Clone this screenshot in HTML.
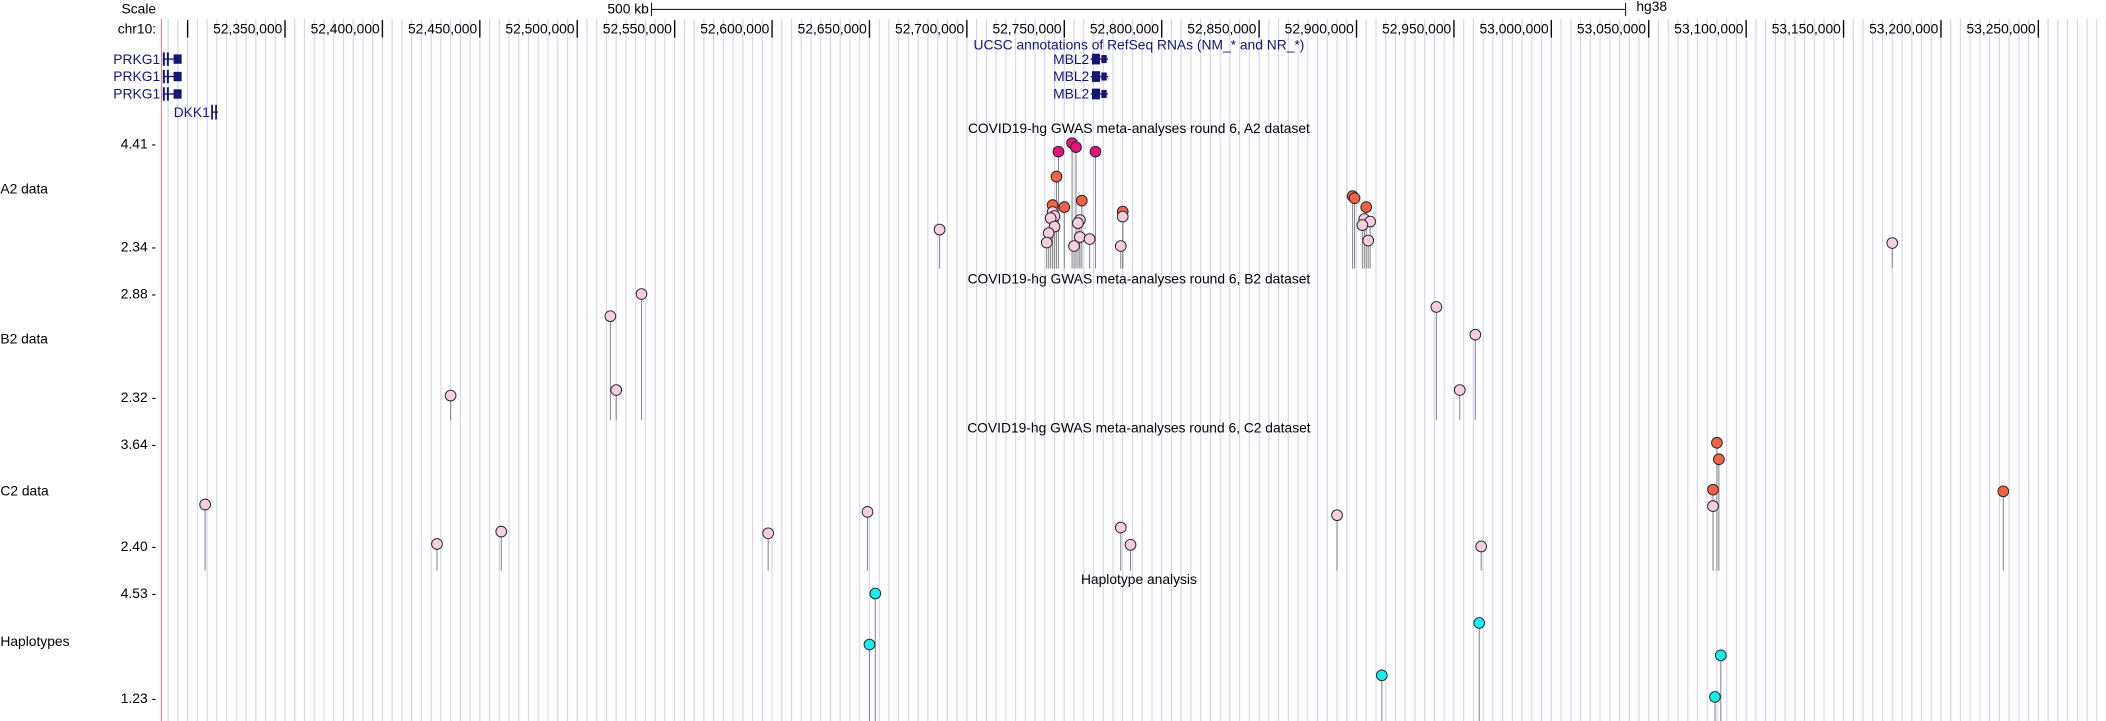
<!DOCTYPE html>
<html><head><meta charset="utf-8"><style>
html,body{margin:0;padding:0;background:#fff;width:2106px;height:721px;overflow:hidden}
svg text{font-family:"Liberation Sans",Arial,sans-serif;font-size:10.3px;fill:#000}
</style></head><body>
<svg id="chart" width="2106" height="721" viewBox="0 0 1568 537" xmlns="http://www.w3.org/2000/svg">
<g id="grid"></g>
<g id="axis"></g>
<g id="genes"></g>
<g id="tracks"></g>
</svg>
<script>
const tickMb=[52300,52350,52400,52450,52500,52550,52600,52650,52700,52750,52800,52850,52900,52950,53000,53050,53100,53150,53200,53250];
const tickLabels=["","52,350,000","52,400,000","52,450,000","52,500,000","52,550,000","52,600,000","52,650,000","52,700,000","52,750,000","52,800,000","52,850,000","52,900,000","52,950,000","53,000,000","53,050,000","53,100,000","53,150,000","53,200,000","53,250,000"];
// A2
const a2Pos=[52686,52747,52754,52756,52766,52746,52744,52750,52759,52780,52780,52779,52744,52745,52743,52745,52742,52741,52758,52757,52758,52755,52763,52898,52899,52905,52904,52907,52903,52906,53175];
const a2Val=[2.69,4.25,4.42,4.34,4.25,3.75,3.18,3.14,3.27,3.05,2.95,2.36,3.04,2.96,2.92,2.75,2.62,2.43,2.88,2.82,2.54,2.36,2.50,3.36,3.32,3.14,2.90,2.85,2.78,2.47,2.42];
const a2Cat=[0,2,2,2,2,1,1,1,1,1,0,0,0,0,0,0,0,0,0,0,0,0,0,1,1,1,0,0,0,0,0];
// B2
const b2Pos=[52517,52520,52533,52435,52941,52961,52953];
const b2Val=[2.76,2.36,2.88,2.33,2.81,2.66,2.36];
const b2Cat=[0,0,0,0,0,0,0];
// C2
const c2Pos=[52309,52428,52461,52598,52649,52779,52784,52890,52964,53085,53086,53083,53083,53232];
const c2Val=[2.91,2.43,2.58,2.56,2.82,2.63,2.42,2.78,2.40,3.66,3.46,3.09,2.89,3.07];
const c2Cat=[0,0,0,0,0,0,0,0,0,1,1,1,0,1];
// Haplotypes
const hapPos=[52653,52650,52963,52913,53087,53084];
const hapVal=[4.53,2.92,3.60,1.95,2.58,1.27];
const hapCat=[3,3,3,3,3,3];

const NS="http://www.w3.org/2000/svg";
const X0=120,X1=1568;
function x(kb){return 212+(kb-52350)*1.451;}
function mk(tag,attrs,parent){const e=document.createElementNS(NS,tag);for(const k in attrs)e.setAttribute(k,attrs[k]);parent.appendChild(e);return e;}
function txt(s,attrs,parent){const e=mk('text',attrs,parent);e.textContent=s;return e;}
const grid=document.getElementById('grid'),axis=document.getElementById('axis'),genes=document.getElementById('genes'),tracks=document.getElementById('tracks');

for(let kb=52290;kb<=53285;kb+=5){const gx=x(kb);if(gx<X0)continue;
const l=mk('line',{x1:gx,x2:gx,y1:14,y2:537,stroke:'#d6d6f2','stroke-width':0.9},grid);

}
const rl=mk('line',{x1:X0,x2:X0,y1:14,y2:537,stroke:'#f08080','stroke-width':0.8},grid);



// scale bar
let t=txt('Scale',{x:116,y:10,'text-anchor':'end'},axis);
t=txt('chr10:',{x:116,y:25,'text-anchor':'end'},axis);
const sb0=485,sb1=sb0+500*1.451;
const sb=mk('g',{},axis);
mk('line',{x1:sb0,x2:sb1,y1:7,y2:7,stroke:'#000','stroke-width':0.7},sb);
mk('line',{x1:sb0,x2:sb0,y1:2,y2:12,stroke:'#000','stroke-width':0.7},sb);
mk('line',{x1:sb1,x2:sb1,y1:2,y2:12,stroke:'#000','stroke-width':0.7},sb);
txt('500 kb',{x:sb0-2,y:10,'text-anchor':'end'},sb);
txt('hg38',{x:sb1+8,y:8},sb);
tickMb.forEach((kb,i)=>{const tx=x(kb);
const tk=mk('line',{x1:tx,x2:tx,y1:15,y2:28,stroke:'#000','stroke-width':1},axis);

if(tickLabels[i]){const tl=txt(tickLabels[i],{x:tx-2,y:25,'text-anchor':'end'},axis);}
});

// genes
const gc='#151577';
t=txt('UCSC annotations of RefSeq RNAs (NM_* and NR_*)',{x:848,y:37,'text-anchor':'middle',fill:gc},genes);t.style.fill=gc;
[44,57,70].forEach(gy=>{
const g=mk('g',{},genes);
const a=txt('PRKG1',{x:119,y:gy+3.5,'text-anchor':'end'},g);a.style.fill=gc;
mk('rect',{x:121,y:gy-5,width:1.5,height:10,fill:gc},g);mk('rect',{x:124,y:gy-5,width:1.5,height:10,fill:gc},g);
mk('line',{x1:121,x2:130,y1:gy,y2:gy,stroke:gc,'stroke-width':1},g);
mk('rect',{x:129,y:gy-3.5,width:6,height:7,fill:gc},g);
const m=mk('g',{},genes);
const b=txt('MBL2',{x:811,y:gy+3.5,'text-anchor':'end'},m);b.style.fill=gc;
mk('line',{x1:812,x2:825,y1:gy,y2:gy,stroke:gc,'stroke-width':1},m);
mk('rect',{x:813,y:gy-4,width:6,height:8,fill:gc},m);mk('rect',{x:820,y:gy-3,width:4,height:6,fill:gc},m);
});
const dk=mk('g',{},genes);
t=txt('DKK1',{x:156,y:87,'text-anchor':'end'},dk);t.style.fill=gc;
mk('rect',{x:157,y:78,width:1.3,height:11,fill:gc},dk);mk('rect',{x:160,y:78,width:1.3,height:11,fill:gc},dk);
mk('line',{x1:157,x2:162,y1:83.5,y2:83.5,stroke:gc,'stroke-width':1},dk);

// tracks
const colors=['#f7cde0','#ef6445','#e0167e','#19ecec'];
const trackDefs=[
{name:'A2 data',title:'COVID19-hg GWAS meta-analyses round 6, A2 dataset',titleY:99,hi:4.41,lo:2.34,yHi:107,yLo:184,bottom:200,labelY:144,pos:a2Pos,val:a2Val,cat:a2Cat,id:'a2'},
{name:'B2 data',title:'COVID19-hg GWAS meta-analyses round 6, B2 dataset',titleY:211,hi:2.88,lo:2.32,yHi:219,yLo:296,bottom:313,labelY:256,pos:b2Pos,val:b2Val,cat:b2Cat,id:'b2'},
{name:'C2 data',title:'COVID19-hg GWAS meta-analyses round 6, C2 dataset',titleY:322,hi:3.64,lo:2.40,yHi:331,yLo:407,bottom:425,labelY:369,pos:c2Pos,val:c2Val,cat:c2Cat,id:'c2'},
{name:'Haplotypes',title:'Haplotype analysis',titleY:435,hi:4.53,lo:1.23,yHi:442,yLo:520,bottom:537,labelY:481,pos:hapPos,val:hapVal,cat:hapCat,id:'hap'}];
trackDefs.forEach(tr=>{
const g=mk('g',{},tracks);
const y=v=>tr.yLo-(v-tr.lo)/(tr.hi-tr.lo)*(tr.yLo-tr.yHi);
let e=txt(tr.title,{x:848,y:tr.titleY,'text-anchor':'middle'},g);
e=txt(tr.name,{x:0,y:tr.labelY},g);
e=txt(tr.hi.toFixed(2)+' -',{x:116,y:y(tr.hi)+3.5,'text-anchor':'end'},g);
e=txt(tr.lo.toFixed(2)+' -',{x:116,y:y(tr.lo)+3.5,'text-anchor':'end'},g);
tr.pos.forEach((p,i)=>{const s=mk('line',{x1:x(p),x2:x(p),y1:y(tr.val[i]),y2:tr.bottom,stroke:'#8a8a8a','stroke-width':0.8},g);
});
tr.pos.forEach((p,i)=>{const c=mk('circle',{cx:x(p),cy:y(tr.val[i]),r:4,fill:colors[tr.cat[i]],stroke:'#222','stroke-width':0.7},g);
});
});
</script>
</body></html>
